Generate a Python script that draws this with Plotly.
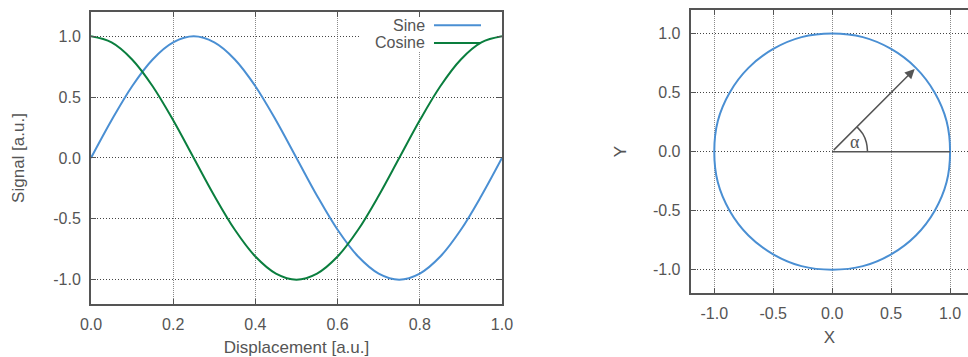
import plotly.graph_objects as go

# ---- data ----
disp = [0, 0.05, 0.1, 0.15, 0.2, 0.25, 0.3, 0.35, 0.4, 0.45, 0.5,
        0.55, 0.6, 0.65, 0.7, 0.75, 0.8, 0.85, 0.9, 0.95, 1.0]
sine = [0, 0.31, 0.59, 0.81, 0.95, 1.00, 0.95, 0.81, 0.59, 0.31, 0,
        -0.31, -0.59, -0.81, -0.95, -1.00, -0.95, -0.81, -0.59, -0.31, 0]
cosine = [1, 0.95, 0.81, 0.59, 0.31, 0, -0.31, -0.59, -0.81, -0.95, -1,
          -0.95, -0.81, -0.59, -0.31, 0, 0.31, 0.59, 0.81, 0.95, 1]

circle_x = [1, 0.97, 0.87, 0.71, 0.5, 0.26, 0, -0.26, -0.5, -0.71, -0.87, -0.97, -1,
            -0.97, -0.87, -0.71, -0.5, -0.26, 0, 0.26, 0.5, 0.71, 0.87, 0.97, 1]
circle_y = [0, 0.26, 0.5, 0.71, 0.87, 0.97, 1, 0.97, 0.87, 0.71, 0.5, 0.26, 0,
            -0.26, -0.5, -0.71, -0.87, -0.97, -1, -0.97, -0.87, -0.71, -0.5, -0.26, 0]
radius_x = [0, 1]
radius_y = [0, 0]
arc_x = [0.3, 0.29, 0.26, 0.21]
arc_y = [0, 0.078, 0.15, 0.21]
arrow_tip = (0.70, 0.70)
alpha_pos = (0.195, 0.08)

tick_vals_lr = [0, 0.2, 0.4, 0.6, 0.8, 1.0]
tick_text_lr = ["0.0", "0.2", "0.4", "0.6", "0.8", "1.0"]
tick_vals_sig = [-1.0, -0.5, 0.0, 0.5, 1.0]
tick_text_sig = ["-1.0", "-0.5", "0.0", "0.5", "1.0"]

BLUE = "#4A8FD3"
GREEN = "#0A7E3E"
FRAME = "#555555"
TEXT = "#555555"
FONT = "Liberation Sans, Arial, sans-serif"

fig = go.Figure()
fig.add_trace(go.Scatter(x=disp, y=sine, mode="lines", line=dict(color=BLUE, width=2, shape="spline"),
                         xaxis="x", yaxis="y", name="Sine", showlegend=False))
fig.add_trace(go.Scatter(x=disp, y=cosine, mode="lines", line=dict(color=GREEN, width=2, shape="spline"),
                         xaxis="x", yaxis="y", name="Cosine", showlegend=False))
fig.add_trace(go.Scatter(x=circle_x, y=circle_y, mode="lines", line=dict(color=BLUE, width=2, shape="spline"),
                         xaxis="x2", yaxis="y2", showlegend=False))
fig.add_trace(go.Scatter(x=radius_x, y=radius_y, mode="lines", line=dict(color=FRAME, width=1.5),
                         xaxis="x2", yaxis="y2", showlegend=False))
fig.add_trace(go.Scatter(x=arc_x, y=arc_y, mode="lines", line=dict(color=FRAME, width=1.5, shape="spline"),
                         xaxis="x2", yaxis="y2", showlegend=False))

fig.add_annotation(x=arrow_tip[0], y=arrow_tip[1], ax=0, ay=0, xref="x2", yref="y2",
                   axref="x2", ayref="y2", showarrow=True, arrowhead=2, arrowsize=1.3,
                   arrowwidth=1.5, arrowcolor=FRAME, text="")
fig.add_annotation(x=alpha_pos[0], y=alpha_pos[1], xref="x2", yref="y2", text="α",
                   showarrow=False, font=dict(family="Liberation Serif, DejaVu Serif, serif",
                                              size=18, color=TEXT))

# custom gnuplot-style legend (text right, sample on the right)
fig.add_shape(type="rect", xref="x", yref="y", x0=0.652, x1=0.997, y0=0.871, y1=1.197,
              fillcolor="white", line=dict(width=0), layer="between")
fig.add_annotation(xref="x domain", yref="y domain", x=0.8175, y=0.955, text="Sine",
                   xanchor="right", yanchor="middle",
                   showarrow=False, font=dict(family=FONT, size=16, color=TEXT))
fig.add_annotation(xref="x domain", yref="y domain", x=0.8175, y=0.894, text="Cosine",
                   xanchor="right", yanchor="middle",
                   showarrow=False, font=dict(family=FONT, size=16, color=TEXT))
fig.add_shape(type="line", xref="x domain", yref="y domain", x0=0.8346, x1=0.949, y0=0.955, y1=0.955,
              line=dict(color=BLUE, width=2))
fig.add_shape(type="line", xref="x domain", yref="y domain", x0=0.8346, x1=0.949, y0=0.894, y1=0.894,
              line=dict(color=GREEN, width=2))

axis_common = dict(showline=True, linecolor=FRAME, linewidth=2, ticks="inside", ticklen=5,
                   tickcolor=FRAME, tickwidth=1, showgrid=True,
                   gridwidth=1, zeroline=False, tickfont=dict(family=FONT, size=16, color=TEXT),
                   title_font=dict(family=FONT, size=17, color=TEXT), ticklabelstandoff=5,
                   automargin=False)
xgrid = dict(gridcolor="#8a8a8a", griddash="1px,1px")
ygrid = dict(gridcolor="#444444", griddash="1px,2px")

fig.update_layout(
    width=968, height=357,
    margin=dict(l=91, r=0, t=10, b=53),
    plot_bgcolor="white", paper_bgcolor="white",
    showlegend=False,
    xaxis=dict(domain=[0, 0.4686], range=[0, 1], tickvals=tick_vals_lr, ticktext=tick_text_lr,
               mirror="allticks", title=dict(text="Displacement [a.u.]", standoff=10), anchor="y",
               **axis_common, **xgrid),
    yaxis=dict(domain=[0, 0.9932], range=[-1.2, 1.2], tickvals=tick_vals_sig, ticktext=tick_text_sig,
               mirror="allticks", title=dict(text="Signal [a.u.]", standoff=24), anchor="x",
               **axis_common, **ygrid),
    xaxis2=dict(domain=[0.6838, 1], range=[-1.2, 1.152], tickvals=tick_vals_sig, ticktext=tick_text_sig,
                mirror="allticks", title=dict(text="X", standoff=10), anchor="y2",
                **axis_common, **xgrid),
    yaxis2=dict(domain=[0.0364, 1], range=[-1.2, 1.2], tickvals=tick_vals_sig, ticktext=tick_text_sig,
                mirror=False, title=dict(text="Y", standoff=22), anchor="x2",
                **axis_common, **ygrid),
)

fig.write_html("out.html")
